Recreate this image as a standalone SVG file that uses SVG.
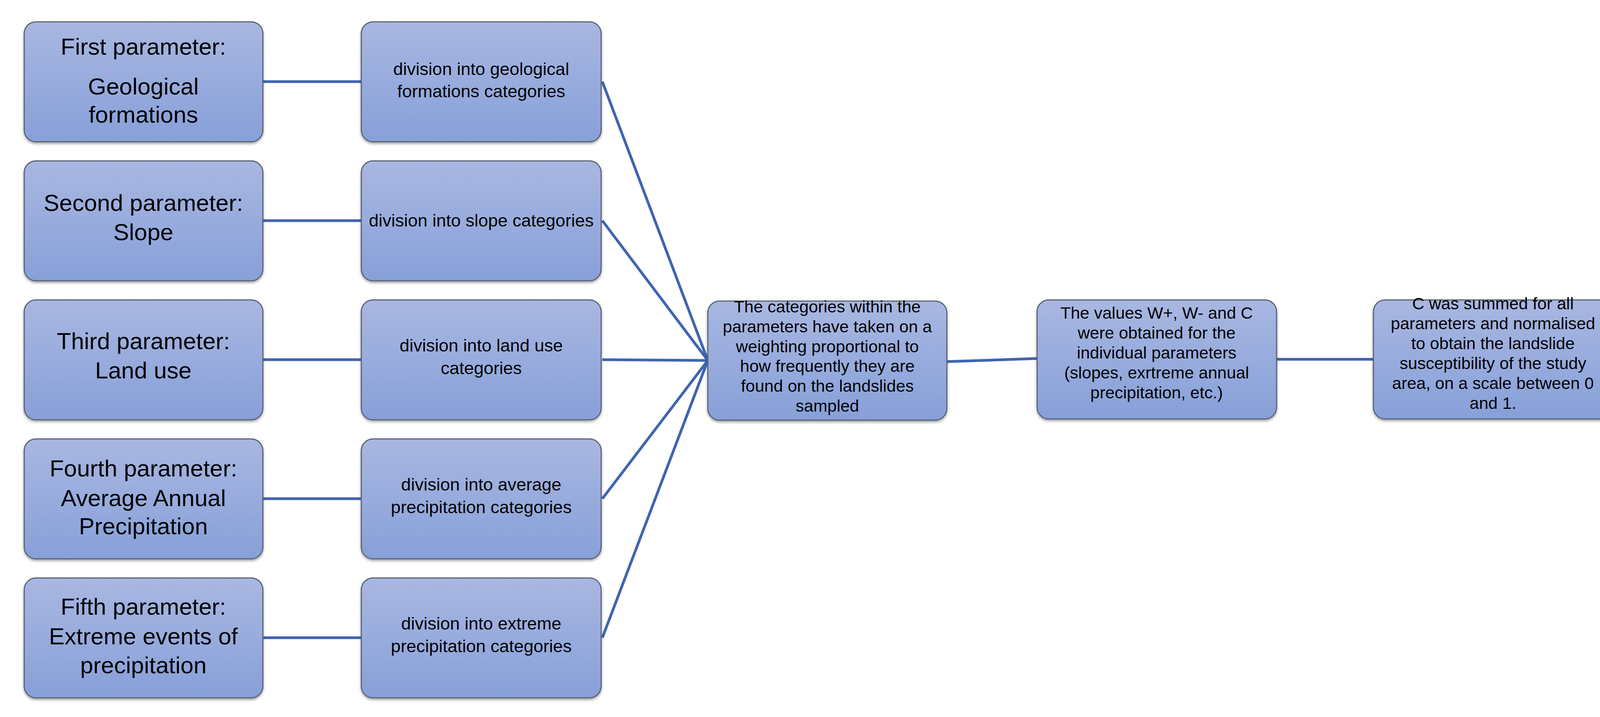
<svg xmlns="http://www.w3.org/2000/svg" width="4196" height="1836" viewBox="0 0 4196 1836">
<defs>
<linearGradient id="g" x1="0" y1="0" x2="0" y2="1"><stop offset="0" stop-color="#a9b7e1"/><stop offset="1" stop-color="#87a0d9"/></linearGradient>
<filter id="sh" x="-5%" y="-5%" width="110%" height="115%"><feDropShadow dx="0" dy="4" stdDeviation="3" flood-color="#000" flood-opacity="0.35"/></filter>
</defs>
<style>
.b{fill:url(#g);stroke:#5b6578;stroke-width:3;filter:url(#sh)}
.t1{font-family:"Liberation Sans Narrow","Liberation Sans",sans-serif;font-size:60px;text-anchor:middle;fill:#000}
.t2{font-family:"Liberation Sans Narrow","Liberation Sans",sans-serif;font-size:45px;text-anchor:middle;fill:#000}
.t3{font-family:"Liberation Sans Narrow","Liberation Sans",sans-serif;font-size:43px;text-anchor:middle;fill:#000}
.c{stroke:#3f65b0;stroke-width:7;fill:none}
</style>
<rect width="4196" height="1836" fill="#fff"/>
<g id="connectors">
<line class="c" x1="673" y1="209" x2="925" y2="209"/>
<line class="c" x1="673" y1="565" x2="925" y2="565"/>
<line class="c" x1="673" y1="921" x2="925" y2="921"/>
<line class="c" x1="673" y1="1277" x2="925" y2="1277"/>
<line class="c" x1="673" y1="1633" x2="925" y2="1633"/>
<line class="c" stroke-width="6" x1="1542" y1="209" x2="1812" y2="923"/>
<line class="c" stroke-width="6" x1="1542" y1="565" x2="1812" y2="923"/>
<line class="c" stroke-width="6" x1="1542" y1="921" x2="1812" y2="923"/>
<line class="c" stroke-width="6" x1="1542" y1="1277" x2="1812" y2="923"/>
<line class="c" stroke-width="6" x1="1542" y1="1633" x2="1812" y2="923"/>
<line class="c" x1="2424" y1="926" x2="2655" y2="918"/>
<line class="c" x1="3268" y1="920" x2="3516" y2="920"/>
</g>
<g id="p1"><rect class="b" x="62" y="56" width="611" height="307" rx="30"/><text class="t1" x="367" y="140">First parameter:</text><text class="t1" x="367" y="242">Geological</text><text class="t1" x="367" y="314">formations</text></g>
<g id="p2"><rect class="b" x="62" y="412" width="611" height="307" rx="30"/><text class="t1" x="367" y="540">Second parameter:</text><text class="t1" x="367" y="615">Slope</text></g>
<g id="p3"><rect class="b" x="62" y="768" width="611" height="307" rx="30"/><text class="t1" x="367" y="894">Third parameter:</text><text class="t1" x="367" y="969">Land use</text></g>
<g id="p4"><rect class="b" x="62" y="1124" width="611" height="307" rx="30"/><text class="t1" x="367" y="1220">Fourth parameter:</text><text class="t1" x="367" y="1296">Average Annual</text><text class="t1" x="367" y="1368">Precipitation</text></g>
<g id="p5"><rect class="b" x="62" y="1480" width="611" height="307" rx="30"/><text class="t1" x="367" y="1574">Fifth parameter:</text><text class="t1" x="367" y="1650">Extreme events of</text><text class="t1" x="367" y="1724">precipitation</text></g>
<g id="d1"><rect class="b" x="925" y="56" width="614" height="307" rx="30"/><text class="t2" x="1232" y="192">division into geological</text><text class="t2" x="1232" y="249">formations categories</text></g>
<g id="d2"><rect class="b" x="925" y="412" width="614" height="307" rx="30"/><text class="t2" x="1232" y="580">division into slope categories</text></g>
<g id="d3"><rect class="b" x="925" y="768" width="614" height="307" rx="30"/><text class="t2" x="1232" y="900">division into land use</text><text class="t2" x="1232" y="958">categories</text></g>
<g id="d4"><rect class="b" x="925" y="1124" width="614" height="307" rx="30"/><text class="t2" x="1232" y="1256">division into average</text><text class="t2" x="1232" y="1314">precipitation categories</text></g>
<g id="d5"><rect class="b" x="925" y="1480" width="614" height="307" rx="30"/><text class="t2" x="1232" y="1612">division into extreme</text><text class="t2" x="1232" y="1670">precipitation categories</text></g>
<g id="w"><rect class="b" x="1812" y="771" width="612" height="305" rx="30"/>
<text class="t3" x="2118" y="800">The categories within the</text><text class="t3" x="2118" y="851">parameters have taken on a</text><text class="t3" x="2118" y="902">weighting proportional to</text><text class="t3" x="2118" y="952">how frequently they are</text><text class="t3" x="2118" y="1003">found on the landslides</text><text class="t3" x="2118" y="1054">sampled</text></g>
<g id="v"><rect class="b" x="2655" y="768" width="613" height="305" rx="30"/>
<text class="t3" x="2961" y="816">The values W+, W- and C</text><text class="t3" x="2961" y="867">were obtained for the</text><text class="t3" x="2961" y="918">individual parameters</text><text class="t3" x="2961" y="969">(slopes, exrtreme annual</text><text class="t3" x="2961" y="1020">precipitation, etc.)</text></g>
<g id="s"><rect class="b" x="3516" y="768" width="613" height="305" rx="30"/>
<text class="t3" x="3822" y="792">C was summed for all</text><text class="t3" x="3822" y="843">parameters and normalised</text><text class="t3" x="3822" y="894">to obtain the landslide</text><text class="t3" x="3822" y="945">susceptibility of the study</text><text class="t3" x="3822" y="996">area, on a scale between 0</text><text class="t3" x="3822" y="1047">and 1.</text></g>
</svg>
